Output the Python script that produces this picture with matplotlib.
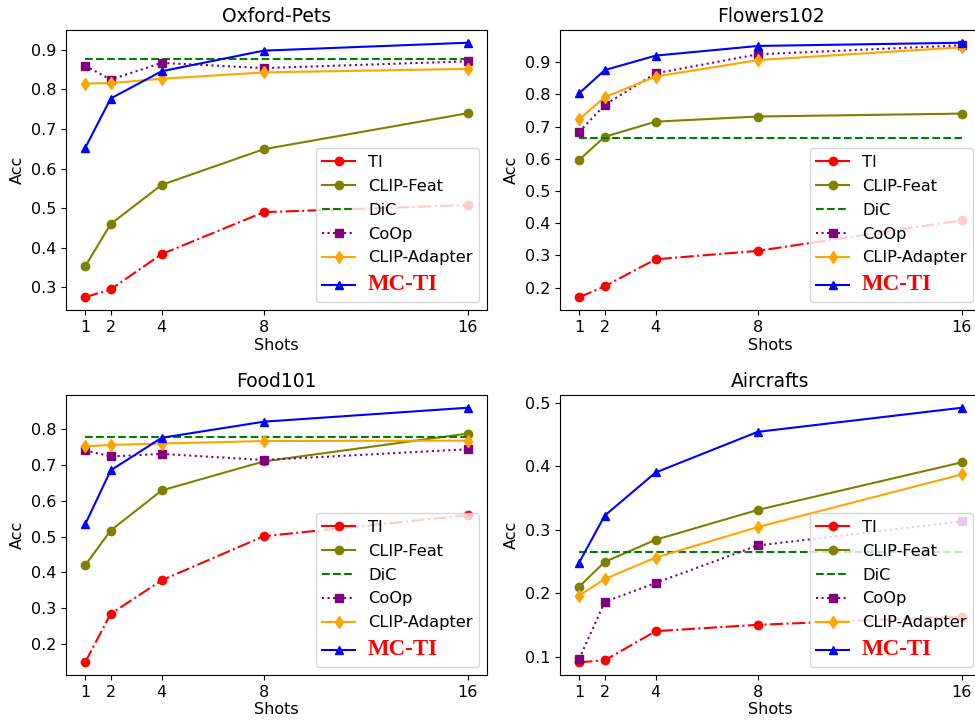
import matplotlib
matplotlib.use("Agg")
import matplotlib.pyplot as plt
from matplotlib.ticker import MultipleLocator

shots = [1, 2, 4, 8, 16]
methods = ["TI", "CLIP-Feat", "DiC", "CoOp", "CLIP-Adapter", "MC-TI"]

# accuracy per dataset, one list per method (DiC is a flat baseline)
pets_ti = [0.275, 0.295, 0.384, 0.490, 0.508]
pets_feat = [0.353, 0.460, 0.559, 0.649, 0.740]
pets_dic = [0.877] * 5
pets_coop = [0.860, 0.825, 0.867, 0.854, 0.871]
pets_adapter = [0.815, 0.816, 0.827, 0.843, 0.852]
pets_mcti = [0.652, 0.777, 0.846, 0.898, 0.918]

flowers_ti = [0.170, 0.204, 0.288, 0.314, 0.409]
flowers_feat = [0.596, 0.668, 0.715, 0.731, 0.740]
flowers_dic = [0.665] * 5
flowers_coop = [0.683, 0.767, 0.865, 0.924, 0.952]
flowers_adapter = [0.722, 0.791, 0.855, 0.906, 0.946]
flowers_mcti = [0.803, 0.875, 0.920, 0.950, 0.960]

food_ti = [0.149, 0.284, 0.378, 0.501, 0.560]
food_feat = [0.420, 0.517, 0.629, 0.710, 0.788]
food_dic = [0.779] * 5
food_coop = [0.741, 0.724, 0.731, 0.714, 0.744]
food_adapter = [0.752, 0.756, 0.760, 0.767, 0.768]
food_mcti = [0.534, 0.685, 0.776, 0.821, 0.860]

air_ti = [0.091, 0.094, 0.140, 0.150, 0.163]
air_feat = [0.210, 0.249, 0.284, 0.331, 0.406]
air_dic = [0.264] * 5
air_coop = [0.096, 0.186, 0.216, 0.275, 0.313]
air_adapter = [0.196, 0.222, 0.256, 0.304, 0.387]
air_mcti = [0.248, 0.322, 0.390, 0.454, 0.492]

panels = [
    ("Oxford-Pets", [pets_ti, pets_feat, pets_dic, pets_coop, pets_adapter, pets_mcti]),
    ("Flowers102", [flowers_ti, flowers_feat, flowers_dic, flowers_coop, flowers_adapter, flowers_mcti]),
    ("Food101", [food_ti, food_feat, food_dic, food_coop, food_adapter, food_mcti]),
    ("Aircrafts", [air_ti, air_feat, air_dic, air_coop, air_adapter, air_mcti]),
]

# color, marker, linestyle for each method
styles = [
    ("red", "o", "-."),
    ("olive", "o", "-"),
    ("green", "", "--"),
    ("purple", "s", ":"),
    ("orange", "d", "-"),
    ("blue", "^", "-"),
]

plt.rcParams.update({
    "font.size": 11.5,
    "axes.titlesize": 13.5,
    "axes.labelsize": 11.5,
    "xtick.labelsize": 11.5,
    "ytick.labelsize": 11.5,
    "legend.fontsize": 11.7,
})

W, H = 975, 723
fig = plt.figure(figsize=(W / 100, H / 100), dpi=100)

# axes boxes in pixels: left, top, right, bottom (right column runs past the edge)
boxes = [(66, 30, 487, 310), (560, 30, 981, 310),
         (66, 395, 487, 675), (560, 395, 981, 675)]

for (title, series), (l, t, r, b) in zip(panels, boxes):
    ax = fig.add_axes([l / W, (H - b) / H, (r - l) / W, (b - t) / H])
    for name, values, (color, marker, ls) in zip(methods, series, styles):
        ax.plot(shots, values, color=color, marker=marker if marker else None,
                linestyle=ls, label=name)
    ax.set_xticks(shots)
    ax.yaxis.set_major_locator(MultipleLocator(0.1))
    ax.set_title(title)
    ax.set_xlabel("Shots", labelpad=2)
    ax.set_ylabel("Acc")

    leg = ax.legend(loc="lower right", labelspacing=0.55)
    leg.get_lines()[0].set_linestyle("-")
    mc = leg.get_texts()[-1]
    mc.set_color("red")
    mc.set_fontfamily("Liberation Serif")
    mc.set_fontweight("bold")
    mc.set_fontsize(16.5)

fig.savefig("out.png", dpi=100)
